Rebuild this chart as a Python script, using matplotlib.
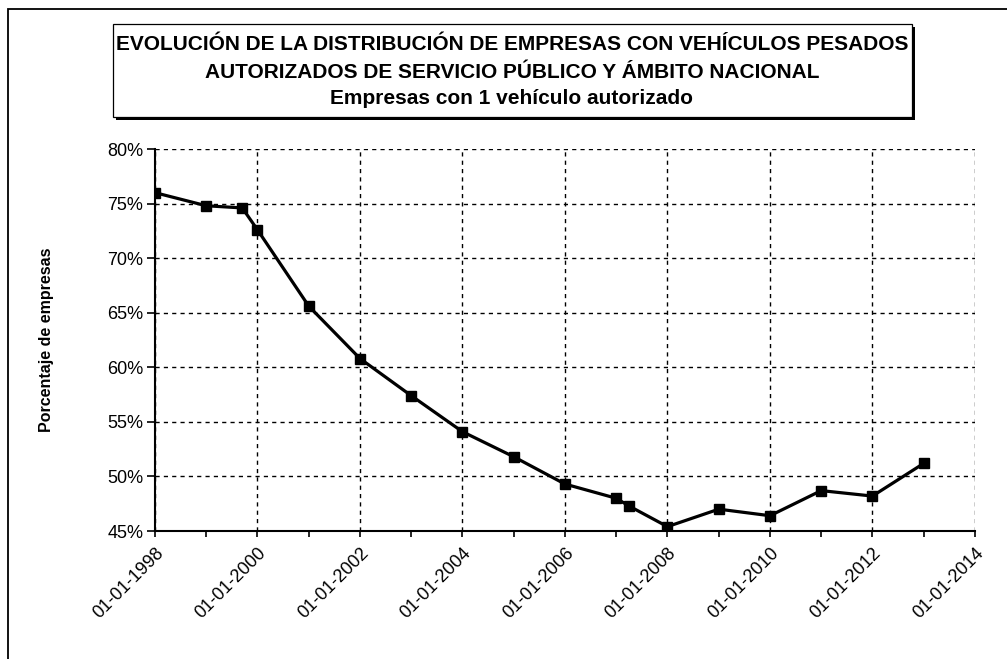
import matplotlib
matplotlib.use("Agg")
import matplotlib.pyplot as plt
import matplotlib.dates as mdates
import matplotlib.ticker as mticker
from matplotlib.patches import Rectangle
import numpy as np

plt.rcParams['font.family'] = ['Liberation Sans', 'DejaVu Sans']

fechas = np.array([
    '1998-01-01', '1999-01-01', '1999-09-15', '2000-01-01', '2001-01-01',
    '2002-01-01', '2003-01-01', '2004-01-01', '2005-01-01', '2006-01-01',
    '2007-01-01', '2007-04-01', '2008-01-01', '2009-01-01', '2010-01-01',
    '2011-01-01', '2012-01-01', '2013-01-01'], dtype='datetime64[D]')
porcentaje = [76.0, 74.8, 74.6, 72.6, 65.6, 60.8, 57.4, 54.1, 51.8, 49.3,
              48.0, 47.3, 45.4, 47.0, 46.4, 48.7, 48.2, 51.2]

titulo = ["EVOLUCIÓN DE LA DISTRIBUCIÓN DE EMPRESAS CON VEHÍCULOS PESADOS",
          "AUTORIZADOS DE SERVICIO PÚBLICO Y ÁMBITO NACIONAL",
          "Empresas con 1 vehículo autorizado"]

W, H = 1007, 659
fig = plt.figure(figsize=(W / 100, H / 100), dpi=100)

def fx(x):
    return x / W

def fy(y):
    return 1 - y / H

# marco exterior (solo se ven el borde superior e izquierdo)
fig.add_artist(Rectangle((fx(8), fy(H + 20)), fx(W + 20), (H + 11) / H,
                         transform=fig.transFigure, fill=False,
                         edgecolor='black', lw=1.3))

# caja del título con sombra
fig.add_artist(Rectangle((fx(116), fy(120)), fx(799), 93 / H,
                         transform=fig.transFigure, facecolor='black',
                         edgecolor='black', lw=0))
fig.add_artist(Rectangle((fx(113), fy(117)), fx(799), 93 / H,
                         transform=fig.transFigure, facecolor='white',
                         edgecolor='black', lw=0.9))
for txt, yy in zip(titulo, [45, 72, 99]):
    fig.text(fx(512), fy(yy), txt, ha='center', va='center',
             fontsize=15, fontweight='bold')

ax = fig.add_axes([fx(155), fy(531), fx(820), 382 / H])
ax.plot(fechas, porcentaje, color='black', lw=2.3, marker='s',
        markersize=6.5, zorder=3)

ax.set_xlim(np.datetime64('1998-01-01'), np.datetime64('2014-01-01'))
ax.set_ylim(45, 80)
ax.yaxis.set_major_locator(mticker.MultipleLocator(5))
ax.yaxis.set_major_formatter(mticker.FuncFormatter(lambda v, p: f"{v:.0f}%"))
ax.xaxis.set_major_locator(mdates.YearLocator(2))
ax.xaxis.set_minor_locator(mdates.YearLocator(1))
ax.xaxis.set_major_formatter(mdates.DateFormatter('%d-%m-%Y'))

for lab in ax.get_xticklabels():
    lab.set_rotation(45)
    lab.set_ha('right')
    lab.set_va('top')
    lab.set_rotation_mode('anchor')

ax.tick_params(axis='both', labelsize=13, color='black', width=1.2)
ax.tick_params(axis='y', direction='out', length=5.5, pad=3)
ax.tick_params(axis='x', which='major', direction='out', length=4, pad=6)
ax.tick_params(axis='x', which='minor', direction='out', length=4, width=1.2)

ax.grid(True, which='major', color='black', linestyle=(0, (3, 3)), lw=1.0)
for s in ['top', 'right']:
    ax.spines[s].set_visible(False)
for s in ['left', 'bottom']:
    ax.spines[s].set_linewidth(1.5)

ax.set_ylabel('Porcentaje de empresas', fontsize=11.5, fontweight='bold')
ax.yaxis.set_label_coords(-0.132, 0.5)
ax.yaxis.label.set_va('center')

fig.savefig('out.png', dpi=100)
